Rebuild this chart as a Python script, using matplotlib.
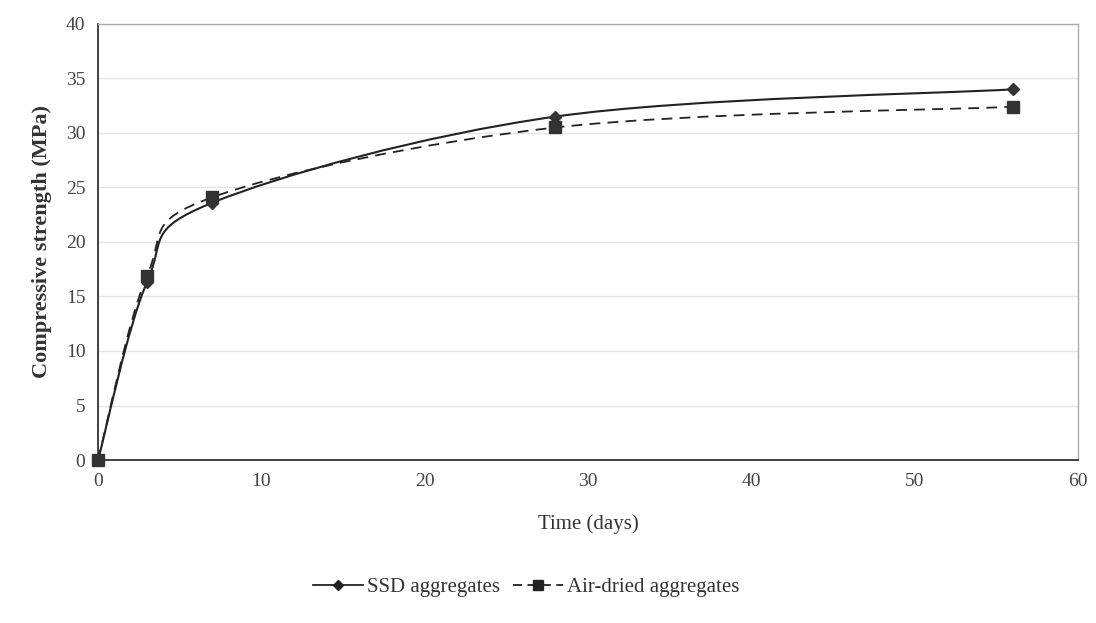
import numpy as np
import matplotlib.pyplot as plt
from matplotlib.path import Path
from matplotlib.patches import PathPatch
from matplotlib.lines import Line2D

plt.rcParams['font.family'] = ['Liberation Serif', 'DejaVu Serif']

days = [0, 3, 7, 28, 56]
ssd = [0.0, 16.3, 23.6, 31.5, 34.0]
air_dried = [0.0, 16.9, 24.1, 30.5, 32.4]


def smooth_path(x, y):
    # Excel-like smoothed line: cubic Bezier segments through the points
    pts = np.column_stack([x, y]).astype(float)
    n = len(pts)
    verts = [pts[0]]
    codes = [Path.MOVETO]
    for i in range(n - 1):
        p0 = pts[i - 1] if i > 0 else pts[i]
        p1 = pts[i]
        p2 = pts[i + 1]
        p3 = pts[i + 2] if i + 2 < n else pts[i + 1]
        c1 = p1 + (p2 - p0) / 6
        c2 = p2 - (p3 - p1) / 6
        verts += [c1, c2, p2]
        codes += [Path.CURVE4] * 3
    return Path(verts, codes)


fig = plt.figure(figsize=(10.96, 6.23), dpi=100)
ax = fig.add_axes([0.0894, 0.2616, 0.8942, 0.70])

for yv in range(5, 40, 5):
    ax.axhline(yv, color="#e4e4e4", lw=1.0, zorder=0)

ax.add_patch(PathPatch(smooth_path(days, ssd), fill=False, color="#222222", lw=1.5))
ax.add_patch(PathPatch(smooth_path(days, air_dried), fill=False, color="#222222",
                       lw=1.3, ls=(0, (6, 4))))
ax.plot(days, ssd, ls="none", marker="D", ms=6, color="#333333", zorder=3,
        clip_on=False)
ax.plot(days, air_dried, ls="none", marker="s", ms=8, color="#333333", zorder=3,
        clip_on=False)

ax.set_xlim(0, 60)
ax.set_ylim(0, 40)
ax.set_xticks(range(0, 61, 10))
ax.set_yticks(range(0, 41, 5))
ax.tick_params(length=0, labelsize=14, colors="#444444", pad=9)

for side in ["top", "right"]:
    ax.spines[side].set_color("#aaaaaa")
    ax.spines[side].set_linewidth(1.0)
for side in ["left", "bottom"]:
    ax.spines[side].set_color("#333333")
    ax.spines[side].set_linewidth(1.3)

ax.set_xlabel("Time (days)", fontsize=15, color="#333333", labelpad=18)
ax.set_ylabel("Compressive strength (MPa)", fontsize=16, color="#333333",
              fontweight="bold", labelpad=10)

handles = [
    Line2D([], [], color="#222222", lw=1.3, marker="D", ms=5),
    Line2D([], [], color="#222222", lw=1.3, ls=(0, (5, 3)), marker="s", ms=7),
]
fig.legend(handles, ["SSD aggregates", "Air-dried aggregates"], loc="center",
           bbox_to_anchor=(0.48, 0.057), ncol=2, frameon=False, fontsize=15,
           handlelength=2.4, columnspacing=0.6, handletextpad=0.2,
           labelcolor="#333333")

fig.savefig("out.png", dpi=100)
